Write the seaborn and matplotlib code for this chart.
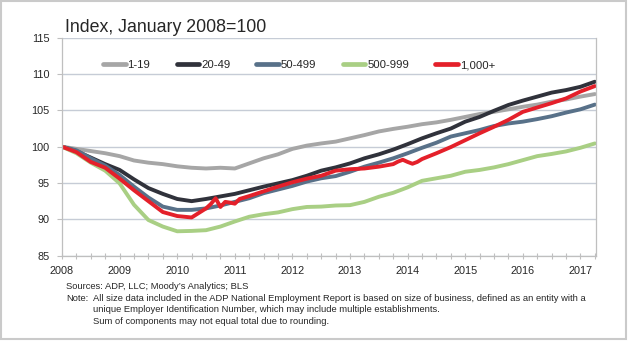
import matplotlib
matplotlib.use("Agg")
import matplotlib.pyplot as plt
from matplotlib.lines import Line2D
from matplotlib.patches import Rectangle
from matplotlib.ticker import FixedLocator, MultipleLocator
import numpy as np
import pandas as pd
import seaborn as sns

# ---- data: employment index by business size, January 2008 = 100 ----
series_names = ["1-19", "20-49", "50-499", "500-999", "1,000+"]
series_colors = ["#A6A6A6", "#30323B", "#587189", "#A9CF84", "#E4202A"]

# quarterly observations (first month of each quarter)
quarter_months = [d.strftime("%Y-%m") for d in pd.date_range("2008-01-01", "2017-04-01", freq="QS")]

size_1_19 = [100.0, 99.7, 99.4, 99.1, 98.7, 98.1, 97.8, 97.6, 97.3, 97.1, 97.0, 97.1,
             97.0, 97.7, 98.4, 98.95, 99.7, 100.15, 100.45, 100.7, 101.15, 101.6, 102.1, 102.45,
             102.75, 103.1, 103.35, 103.7, 104.1, 104.5, 104.8, 105.15, 105.5, 105.8, 106.2, 106.5,
             106.9, 107.25]
size_20_49 = [100.0, 99.4, 98.5, 97.6, 96.8, 95.5, 94.3, 93.5, 92.8, 92.5, 92.8, 93.15,
              93.5, 94.0, 94.5, 94.95, 95.4, 96.0, 96.7, 97.15, 97.7, 98.4, 98.95, 99.6,
              100.35, 101.15, 101.85, 102.5, 103.45, 104.1, 104.95, 105.75, 106.35, 106.9, 107.45, 107.8,
              108.25, 108.95]
size_50_499 = [100.0, 99.5, 98.4, 97.4, 96.1, 94.5, 93.0, 91.75, 91.3, 91.3, 91.5, 91.9,
               92.4, 92.9, 93.6, 94.1, 94.6, 95.2, 95.65, 95.95, 96.55, 97.25, 97.8, 98.4,
               99.1, 99.85, 100.55, 101.4, 101.85, 102.3, 102.85, 103.2, 103.45, 103.8, 104.2, 104.7,
               105.15, 105.8]
size_500_999 = [100.0, 99.1, 97.8, 96.7, 94.95, 92.0, 89.9, 89.0, 88.35, 88.4, 88.5, 89.0,
                89.7, 90.35, 90.7, 90.95, 91.4, 91.7, 91.75, 91.9, 91.95, 92.4, 93.1, 93.65,
                94.4, 95.3, 95.65, 96.0, 96.55, 96.8, 97.15, 97.6, 98.15, 98.7, 99.0, 99.35,
                99.85, 100.45]

# the largest size class is tracked monthly where it moves abruptly
size_1000_months = ["2008-01", "2008-04", "2008-07", "2008-10", "2009-01", "2009-04", "2009-07",
                    "2009-10", "2010-01", "2010-04", "2010-07", "2010-08", "2010-09", "2010-10",
                    "2010-11", "2010-12", "2011-01", "2011-02", "2011-03", "2011-04", "2011-07",
                    "2011-10", "2012-01", "2012-04", "2012-07", "2012-10", "2013-01", "2013-04",
                    "2013-07", "2013-10", "2013-11", "2013-12", "2014-01", "2014-02", "2014-03",
                    "2014-04", "2014-07", "2014-10", "2015-01", "2015-04", "2015-07", "2015-10",
                    "2016-01", "2016-04", "2016-07", "2016-10", "2017-01", "2017-04"]
size_1000 = [100.0, 99.25, 97.9, 97.1, 95.6, 94.0, 92.5, 91.0, 90.45, 90.25, 91.5, 92.1,
             92.9, 91.7, 92.4, 92.3, 92.15, 92.8, 93.0, 93.2, 93.85, 94.5, 95.1, 95.6,
             96.0, 96.7, 96.9, 97.0, 97.25, 97.6, 97.95, 98.2, 97.9, 97.65, 97.9, 98.3,
             99.1, 99.95, 100.9, 101.85, 102.75, 103.7, 104.8, 105.4, 106.0, 106.65, 107.6, 108.35]

year_labels = ["2008", "2009", "2010", "2011", "2012", "2013", "2014", "2015", "2016", "2017"]
y_ticks = [85, 90, 95, 100, 105, 110, 115]

title_text = "Index, January 2008=100"
source_text = "Sources: ADP, LLC; Moody\u2019s Analytics; BLS"
note_lines = [
    "All size data included in the ADP National Employment Report is based on size of business, defined as an entity with a",
    "unique Employer Identification Number, which may include multiple establishments.",
    "Sum of components may not equal total due to rounding.",
]


def to_decimal_year(month_str):
    year, month = month_str.split("-")
    return int(year) + (int(month) - 1) / 12.0


frames = []
for name, months, values in [
    ("1-19", quarter_months, size_1_19),
    ("20-49", quarter_months, size_20_49),
    ("50-499", quarter_months, size_50_499),
    ("500-999", quarter_months, size_500_999),
    ("1,000+", size_1000_months, size_1000),
]:
    frames.append(pd.DataFrame({
        "date": [to_decimal_year(m) for m in months],
        "index": values,
        "size": name,
    }))
df = pd.concat(frames, ignore_index=True)

# ---- styling ----
sns.set_theme(style="white")
plt.rcParams["font.family"] = ["Liberation Sans", "DejaVu Sans"]
text_color = "#262626"
grid_color = "#C6CCD6"
axis_color = "#BFBFBF"

W, H = 630, 341
fig = plt.figure(figsize=(W / 100, H / 100), dpi=100)
fig.patch.set_facecolor("white")


def px(x, y):
    return x / W, 1 - y / H


left, right, top, bottom = 62, 596, 37.8, 255.6
ax = fig.add_axes([left / W, 1 - bottom / H, (right - left) / W, (bottom - top) / H])

palette = dict(zip(series_names, series_colors))
sns.lineplot(data=df, x="date", y="index", hue="size", hue_order=series_names,
             palette=palette, estimator=None, sort=True, linewidth=2.8,
             legend=False, ax=ax)
for line in ax.lines:
    line.set_solid_capstyle("round")
    line.set_solid_joinstyle("round")

ax.set_xlim(2008.0, 2017.27)
ax.set_ylim(85, 115)
ax.set_xlabel("")
ax.set_ylabel("")

ax.yaxis.set_major_locator(FixedLocator(y_ticks))
ax.set_yticklabels([str(v) for v in y_ticks])
ax.grid(axis="y", color=grid_color, linewidth=1.0)
ax.grid(axis="x", visible=False)
ax.set_axisbelow(True)

year_pos = [int(y) for y in year_labels]
ax.xaxis.set_major_locator(FixedLocator(year_pos))
ax.set_xticklabels(year_labels)
ax.xaxis.set_minor_locator(MultipleLocator(0.25))

ax.tick_params(axis="y", which="major", direction="out", length=3.5, width=0.8,
               color=axis_color, labelsize=7.8, labelcolor=text_color, pad=5.5, left=True)
ax.tick_params(axis="x", which="both", direction="inout", length=5, width=0.8,
               color=axis_color, bottom=True)
ax.tick_params(axis="x", which="major", labelsize=7.8, labelcolor=text_color, pad=5)

for side in ["left", "bottom", "right"]:
    ax.spines[side].set_visible(True)
    ax.spines[side].set_color(axis_color)
    ax.spines[side].set_linewidth(0.9)
ax.spines["top"].set_visible(False)

handles = [Line2D([], [], color=c, linewidth=3.4, solid_capstyle="round") for c in series_colors]
ax.legend(handles, series_names, ncol=5, frameon=False, loc="center left",
          bbox_to_anchor=((103 - left) / (right - left), (bottom - 65) / (bottom - top)),
          borderpad=0, borderaxespad=0, handlelength=2.0, handletextpad=0.15,
          columnspacing=2.3, prop={"size": 8.2}, labelcolor=text_color)

# ---- titles and notes ----
fig.text(*px(65, 31.7), title_text, fontsize=12.8, color=text_color, va="baseline", ha="left")

note_size = 6.75
fig.text(*px(66, 286.5), source_text, fontsize=note_size, color=text_color, va="center", ha="left")
fig.text(*px(66, 298.5), "Note:", fontsize=note_size, color=text_color, va="center", ha="left")
for i, line_text in enumerate(note_lines):
    fig.text(*px(93, 298.5 + 11.5 * i), line_text, fontsize=note_size, color=text_color,
             va="center", ha="left")

# light frame around the whole graphic
fig.add_artist(Rectangle(px(1, 339), 625 / W, 338 / H, transform=fig.transFigure,
                         fill=False, edgecolor="#CACACA", linewidth=1.5))

fig.savefig("out.png", dpi=100, facecolor="white")
